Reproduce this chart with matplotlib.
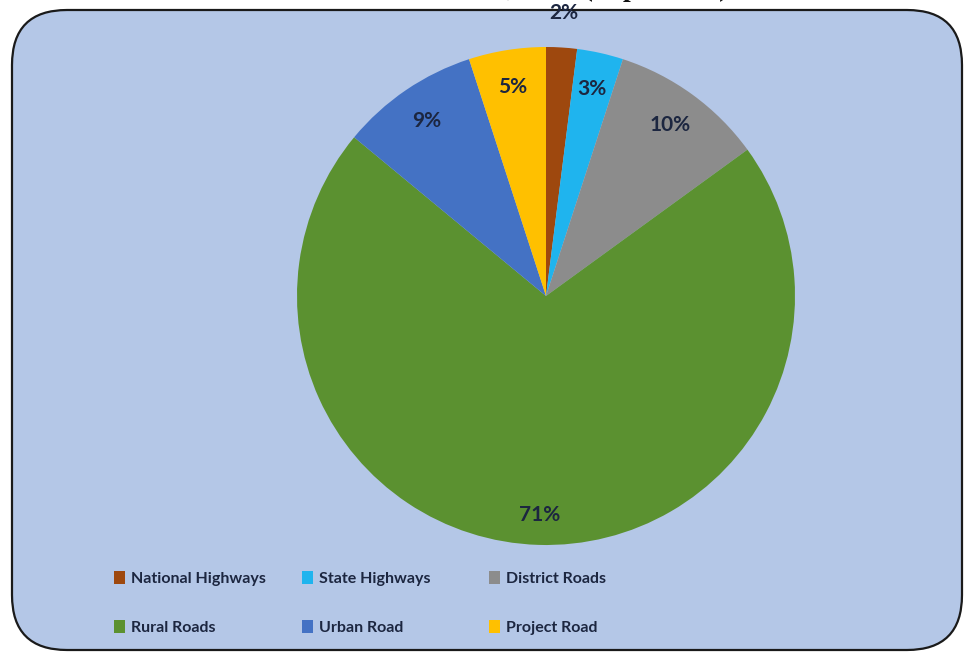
"""
Share of road length by road category, drawn as a pie on a rounded panel.
"""
import matplotlib.pyplot as plt
from matplotlib.patches import FancyBboxPatch, Patch

categories = ["National Highways", "State Highways", "District Roads",
              "Rural Roads", "Urban Road", "Project Road"]
shares = [2, 3, 10, 71, 9, 5]
colors = ["#9E480E", "#1FB4EE", "#8C8C8C", "#5B9130", "#4472C4", "#FFC000"]
title = "Road Network, 2017 (in per cent)"

W, H = 965, 654
FONT = "Lato"
TEXT_COLOR = "#1C2640"
fig = plt.figure(figsize=(W / 100, H / 100), dpi=100)
fig.patch.set_facecolor("white")

# background panel in pixel coordinates so the rounded corners stay circular
bg = fig.add_axes([0, 0, 1, 1])
bg.set_xlim(0, W)
bg.set_ylim(H, 0)
bg.axis("off")
panel = FancyBboxPatch((12, 10), 950, 640,
                       boxstyle="round,pad=0,rounding_size=55",
                       facecolor="#B4C7E7", edgecolor="#1A1A1A", linewidth=1.6)
bg.add_patch(panel)
# title sits almost entirely above the top edge of the picture, as in the source
bg.text(728, -4, title, ha="right", va="baseline",
        fontsize=20, fontweight="bold", family="Liberation Serif", color="#111111")

# pie axes: centre (546, 296) px, radius 249 px
cx, cy, r = 546, 296, 249
ax = fig.add_axes([(cx - r) / W, (H - cy - r) / H, 2 * r / W, 2 * r / H])
wedges, texts, autotexts = ax.pie(
    shares, colors=colors, startangle=90, counterclock=False,
    autopct="%d%%", pctdistance=0.85,
    wedgeprops=dict(linewidth=0),
    textprops=dict(fontsize=15, fontweight="bold", color=TEXT_COLOR, family=FONT),
)
ax.set_xlim(-1, 1)
ax.set_ylim(-1, 1)
ax.set_aspect("auto")

# small slice label sits outside the pie
x, y = autotexts[0].get_position()
autotexts[0].set_position((x / 0.85 * 1.14, y / 0.85 * 1.14))
x, y = autotexts[3].get_position()
autotexts[3].set_position((x, y / 0.85 * 0.88))

# legend: one column per legend so columns start at fixed positions
handles = [Patch(facecolor=c, edgecolor="none") for c in colors]
col_left = [108, 296, 483]
for col in range(3):
    idx = [col, col + 3]
    leg = fig.legend([handles[i] for i in idx], [categories[i] for i in idx],
                     loc="upper left",
                     bbox_to_anchor=(col_left[col] / W, 1 - 565 / H),
                     frameon=False, handlelength=0.65, handleheight=0.8,
                     handletextpad=0.4, labelspacing=2.15, borderaxespad=0,
                     prop=dict(family=FONT, weight="bold", size=11.5))
    for t in leg.get_texts():
        t.set_color(TEXT_COLOR)

fig.savefig("out.png", dpi=100)
